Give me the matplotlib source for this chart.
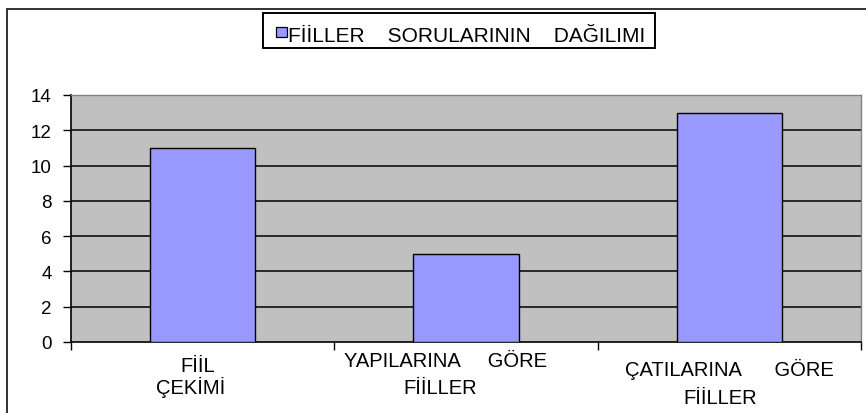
import matplotlib
matplotlib.use("Agg")
import matplotlib.pyplot as plt
import matplotlib.transforms as mtransforms
from matplotlib.patches import Rectangle

categories = ["FİİL\nÇEKİMİ", "YAPILARINA     GÖRE\nFİİLLER", "ÇATILARINA      GÖRE\nFİİLLER"]
values = [11, 5, 13]
series_name = "FİİLLER    SORULARININ    DAĞILIMI"
yticks = [0, 2, 4, 6, 8, 10, 12, 14]

plt.rcParams['font.family'] = ['Liberation Sans', 'DejaVu Sans']

W, H = 866, 414
fig = plt.figure(figsize=(W / 100, H / 100), dpi=100)
fig.patch.set_facecolor('white')

def fx(px):
    return px / W

def fy(py):
    return 1 - py / H

# outer chart border (left and top visible)
fig.add_artist(Rectangle((fx(6.5), -0.05), 1.2, fy(9.5) + 0.05, transform=fig.transFigure,
                         fill=False, edgecolor='#222222', linewidth=1.3))

ax = fig.add_axes([fx(71), fy(343), fx(861) - fx(71), fy(96) - fy(343)])
ax.set_facecolor('#C0C0C0')

x = list(range(len(values)))
bars = ax.bar(x, values, width=0.4, color='#9999FF', edgecolor='black', linewidth=1.0,
              zorder=3, label=series_name)

ax.set_xlim(-0.5, len(values) - 0.5)
ax.set_ylim(0, 14)
ax.set_yticks(yticks)
ax.set_yticklabels([str(t) for t in yticks], fontsize=13.5)
for t in yticks[1:-1]:
    ax.axhline(t, color='black', linewidth=1.1, zorder=1)

ax.set_xticks([i - 0.5 for i in range(len(values) + 1)])
ax.set_xticklabels([])
ax.tick_params(axis='both', direction='out', length=5.5, width=1, color='black')
ax.tick_params(axis='y', pad=8.5)

for side in ['top', 'right']:
    ax.spines[side].set_color('#808080')
    ax.spines[side].set_linewidth(1.0)
for side in ['left', 'bottom']:
    ax.spines[side].set_color('black')
    ax.spines[side].set_linewidth(1.2)

# category labels: (x offset in px, baseline y in px) per line
trans = mtransforms.blended_transform_factory(ax.transData, fig.transFigure)
cat_px = (861 - 71) / len(values)
line_layout = [[(-5, 372), (-12, 394)],
               [(-20, 367), (-26, 394)],
               [(0.5, 376), (-9, 404)]]
for i, lab in enumerate(categories):
    for j, line in enumerate(lab.split("\n")):
        dx, base = line_layout[i][j]
        ax.text(x[i] + dx / cat_px, fy(base), line, transform=trans, ha='center',
                va='baseline', fontsize=14.5)

# legend box
fig.add_artist(Rectangle((fx(263), fy(49)), fx(655) - fx(263), fy(14) - fy(49),
                         transform=fig.transFigure, facecolor='white', edgecolor='black',
                         linewidth=1.4))
fig.add_artist(Rectangle((fx(276), fy(38)), fx(287) - fx(276), fy(28) - fy(38),
                         transform=fig.transFigure, facecolor=bars.patches[0].get_facecolor(),
                         edgecolor='black', linewidth=0.9))
fig.text(fx(288), fy(42), series_name, ha='left', va='baseline', fontsize=15)

fig.savefig("out.png", dpi=100)
